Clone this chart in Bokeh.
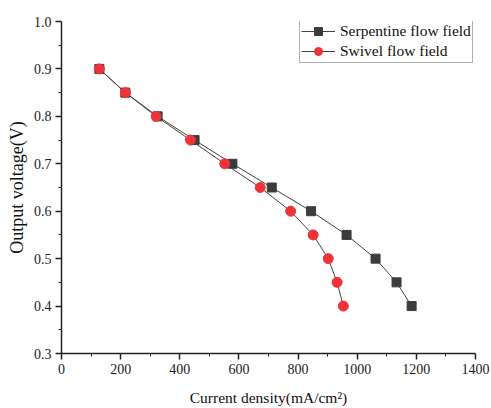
from bokeh.plotting import figure
from bokeh.models import Range1d, ColumnDataSource, Legend, LegendItem, FixedTicker, CustomJSTickFormatter
from bokeh.embed import file_html
from bokeh.resources import INLINE

voltage = [0.9, 0.85, 0.8, 0.75, 0.7, 0.65, 0.6, 0.55, 0.5, 0.45, 0.4]
serpentine_current = [128, 216, 325, 450, 578, 711, 844, 964, 1062, 1133, 1184]
swivel_current = [128, 216, 320, 436, 552, 672, 775, 851, 902, 932, 953]
x_ticks = [0, 200, 400, 600, 800, 1000, 1200, 1400]
x_minor = [100, 300, 500, 700, 900, 1100, 1300]
y_ticks = [0.3, 0.4, 0.5, 0.6, 0.7, 0.8, 0.9, 1.0]
y_minor = [0.35, 0.45, 0.55, 0.65, 0.75, 0.85, 0.95]

FONT = "Liberation Serif"

p = figure(width=491, height=408, output_backend="svg", toolbar_location=None,
           x_range=Range1d(0, 1400), y_range=Range1d(0.3, 1.0),
           min_border_left=61, min_border_right=16, min_border_top=21, min_border_bottom=54)
p.outline_line_color = None
p.grid.grid_line_color = None
p.background_fill_color = "white"

p.xaxis.ticker = FixedTicker(ticks=x_ticks, minor_ticks=x_minor)
p.yaxis.ticker = FixedTicker(ticks=y_ticks, minor_ticks=y_minor)
p.yaxis.formatter = CustomJSTickFormatter(code="return tick.toFixed(1);")

for ax in (p.xaxis[0], p.yaxis[0]):
    ax.axis_line_width = 1.5
    ax.axis_line_color = "#222222"
    ax.major_tick_line_color = "#222222"
    ax.minor_tick_line_color = "#222222"
    ax.major_tick_line_width = 1.5
    ax.major_tick_in = 0
    ax.major_tick_out = 6
    ax.minor_tick_in = 0
    ax.minor_tick_out = 3
    ax.major_label_text_font = FONT
    ax.major_label_text_font_size = "14px"
    ax.major_label_text_color = "#222222"
    ax.axis_label_text_font = FONT
    ax.axis_label_text_font_style = "normal"
    ax.axis_label_text_color = "#111111"

p.xaxis.axis_label_text_font_size = "15.5px"
p.yaxis.axis_label_text_font_size = "18px"
p.xaxis.axis_label = "Current density(mA/cm²)"
p.yaxis.axis_label = "Output voltage(V)"
p.xaxis.major_label_standoff = 4
p.yaxis.major_label_standoff = 4
p.xaxis.axis_label_standoff = 12
p.yaxis.axis_label_standoff = 4

src1 = ColumnDataSource(dict(x=serpentine_current, y=voltage))
src2 = ColumnDataSource(dict(x=swivel_current, y=voltage))

l1 = p.line("x", "y", source=src1, line_color="#444444", line_width=1)
s1 = p.scatter("x", "y", source=src1, marker="square", size=9, fill_color="#3c3c3c", line_color="#3c3c3c")
l2 = p.line("x", "y", source=src2, line_color="#444444", line_width=1)
s2 = p.scatter("x", "y", source=src2, marker="circle", size=10, fill_color="#ee3338", line_color="#ee3338")

legend = Legend(items=[LegendItem(label="Serpentine flow field", renderers=[l1, s1]),
                       LegendItem(label="Swivel flow field", renderers=[l2, s2])],
                location=(238, 290))
legend.label_text_font = FONT
legend.label_text_font_size = "15.5px"
legend.label_text_color = "#111111"
legend.border_line_color = "#666666"
legend.border_line_width = 1
legend.padding = 1
legend.spacing = 0
legend.margin = 0
legend.glyph_width = 34
legend.glyph_height = 20
legend.label_height = 20
legend.label_standoff = 5
p.add_layout(legend, "center")

open("out.html", "w").write(file_html(p, INLINE))
